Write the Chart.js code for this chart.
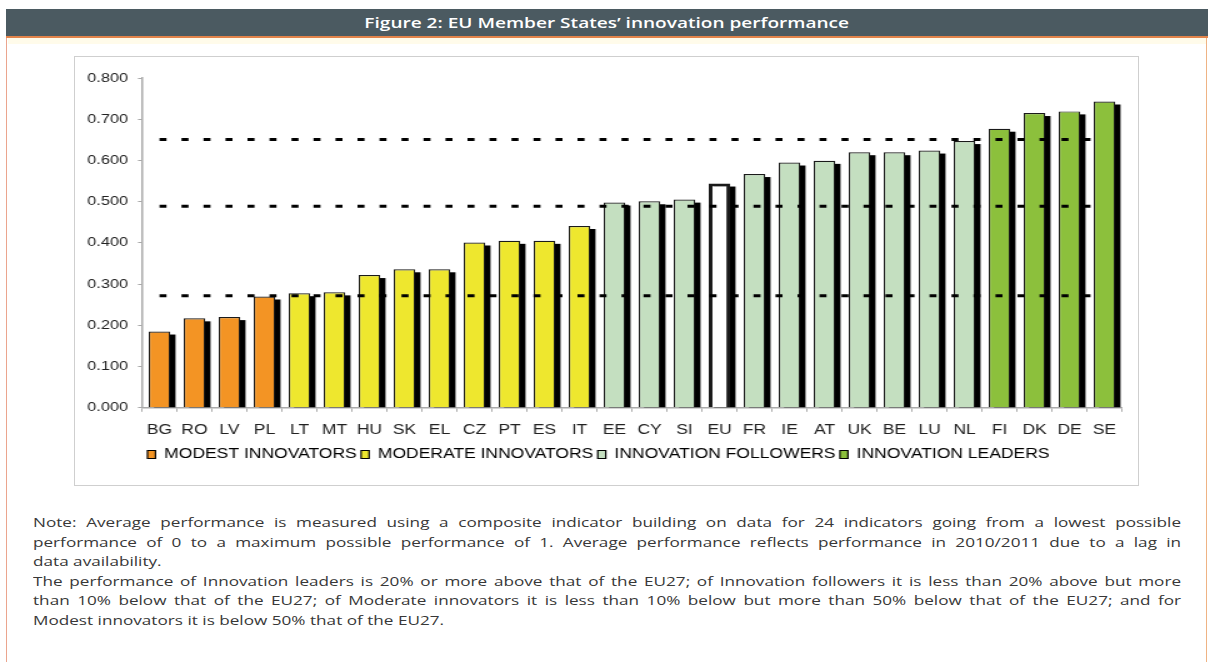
<!DOCTYPE html>
<html>
<head>
<meta charset="utf-8">
<script src="https://cdn.jsdelivr.net/npm/chart.js@4.4.1/dist/chart.umd.min.js"></script>
<style>
  body { margin: 0; background: #fff; width: 1213px; height: 662px; position: relative; overflow: hidden; font-family: "Open Sans", sans-serif; }
  .frame { position: absolute; left: 6px; top: 9px; width: 1199px; height: 670px; border-left: 1.5px solid #eba58e; border-right: 1.5px solid #efb384; }
  .header { position: absolute; left: 6px; top: 9px; width: 1202px; height: 27px; background: #4b5a61; border-bottom: 2px solid #e2834a; }
  .header span { position: absolute; left: 0; top: 0; width: 946px; transform: scaleX(1.27); transform-origin: 0 0; color: #fff; font-size: 15px; font-weight: 600; text-align: center; line-height: 27px; }
  .band { position: absolute; left: 8px; top: 38px; width: 1198px; height: 6px; background: #fffbea; }
  .box { position: absolute; left: 74px; top: 56px; width: 1063px; height: 428px; border: 1.5px solid #cfcfcf; background: #fff; }
  #chartCanvas { position: absolute; left: 75px; top: 57px; width: 850px; height: 428px; transform: scaleX(1.25); transform-origin: 0 0; }
  .notes { position: absolute; left: 33px; top: 513px; width: 904px; transform: scaleX(1.27); transform-origin: 0 0; font-size: 13.5px; line-height: 19.5px; color: #383838; }
  .notes div { text-align: justify; text-align-last: justify; white-space: nowrap; }
  .notes div.last { text-align-last: left; }
</style>
</head>
<body>
<div class="frame"></div>
<div class="header"><span>Figure 2: EU Member States’ innovation performance</span></div>
<div class="band"></div>
<div class="box"></div>
<canvas id="chartCanvas" width="850" height="428"></canvas>
<div class="notes">
  <div>Note: Average performance is measured using a composite indicator building on data for 24 indicators going from a lowest possible</div>
  <div>performance of 0 to a maximum possible performance of 1. Average performance reflects performance in 2010/2011 due to a lag in</div>
  <div class="last">data availability.</div>
  <div>The performance of Innovation leaders is 20% or more above that of the EU27; of Innovation followers it is less than 20% above but more</div>
  <div>than 10% below that of the EU27; of Moderate innovators it is less than 10% below but more than 50% below that of the EU27; and for</div>
  <div class="last">Modest innovators it is below 50% that of the EU27.</div>
</div>
<script>
// DATA

const countries = ['BG', 'RO', 'LV', 'PL', 'LT', 'MT', 'HU', 'SK', 'EL', 'CZ', 'PT', 'ES', 'IT',
    'EE', 'CY', 'SI', 'EU', 'FR', 'IE', 'AT', 'UK', 'BE', 'LU', 'NL', 'FI', 'DK', 'DE', 'SE'];

const performance = [0.185, 0.217, 0.220, 0.270, 0.278, 0.280, 0.322, 0.336, 0.336, 0.401, 0.405, 0.405, 0.441,
    0.498, 0.501, 0.505, 0.544, 0.567, 0.595, 0.599, 0.620, 0.620, 0.624, 0.647, 0.677, 0.715, 0.719, 0.743];

const groups = ['modest', 'modest', 'modest', 'modest',
    'moderate', 'moderate', 'moderate', 'moderate', 'moderate', 'moderate', 'moderate', 'moderate', 'moderate',
    'follower', 'follower', 'follower', 'eu', 'follower', 'follower', 'follower', 'follower', 'follower', 'follower', 'follower',
    'leader', 'leader', 'leader', 'leader'];

// EU average x 0.5, x 0.9, x 1.2
const thresholds = [0.272, 0.489, 0.651];

const legendNames = ['MODEST INNOVATORS', 'MODERATE INNOVATORS', 'INNOVATION FOLLOWERS', 'INNOVATION LEADERS'];
const legendColors = ['#f39424', '#eee72e', '#c4dfc0', '#8cc03c'];

const groupColors = { modest: '#f39424', moderate: '#eee72e', follower: '#c4dfc0', leader: '#8cc03c', eu: '#ffffff' };

// PLUGIN: black drop shadow behind each bar

const barShadow = {
    id: 'barShadow',
    beforeDatasetDraw(chart, args) {
        if (args.index !== 0) return;
        const ctx = chart.ctx;
        ctx.save();
        ctx.fillStyle = '#000';
        args.meta.data.forEach(bar => {
            const w = bar.width;
            ctx.fillRect(bar.x - w / 2 + 4.2, bar.y + 3, w, bar.base - bar.y - 3);
        });
        ctx.restore();
    }
};

// CHART

const font = "'Liberation Sans', Arial, sans-serif";

const datasets = [{
    type: 'bar',
    data: performance,
    backgroundColor: groups.map(g => groupColors[g]),
    borderColor: '#1a1a1a',
    borderWidth: groups.map(g => g === 'eu' ? 3 : 1.2),
    borderSkipped: 'bottom',
    barPercentage: 0.615,
    categoryPercentage: 1,
    order: 1
}];

thresholds.forEach(t => {
    datasets.push({
        type: 'line',
        data: countries.map(() => t),
        borderColor: '#000',
        borderWidth: 3,
        borderDash: [5.6, 12],
        pointRadius: 0,
        fill: false,
        order: 0
    });
});

new Chart(document.getElementById('chartCanvas'), {
    data: { labels: countries, datasets: datasets },
    plugins: [barShadow],
    options: {
        responsive: false,
        animation: false,
        devicePixelRatio: 1,
        layout: { padding: { top: 21, right: 12.4, bottom: 13.5, left: 0 } },
        plugins: {
            tooltip: { enabled: false },
            legend: {
                position: 'bottom',
                onClick: null,
                labels: {
                    font: { family: font, size: 14 },
                    color: '#1a1a1a',
                    boxWidth: 6.4,
                    boxHeight: 8,
                    padding: 3.5,
                    generateLabels: () => legendNames.map((text, i) => ({
                        text: text,
                        fillStyle: legendColors[i],
                        strokeStyle: '#000',
                        lineWidth: 1.2,
                        hidden: false,
                        datasetIndex: 0
                    }))
                }
            }
        },
        scales: {
            x: {
                grid: { drawOnChartArea: false, tickLength: 4, color: '#aaa', offset: true },
                border: { color: '#aaa', width: 1.5 },
                ticks: { font: { family: font, size: 14 }, color: '#222', padding: 10, maxRotation: 0, autoSkip: false },
                afterFit: scale => { scale.height = 36.2; }
            },
            y: {
                min: 0,
                max: 0.8,
                grid: { drawOnChartArea: false, tickLength: 3.2, color: '#aaa' },
                border: { color: '#aaa', width: 1.5 },
                ticks: { stepSize: 0.1, font: { family: font, size: 13 }, color: '#222', padding: 8, callback: v => v.toFixed(3) },
                afterFit: scale => { scale.width = 53.6; }
            }
        }
    }
});
</script>
</body>
</html>
